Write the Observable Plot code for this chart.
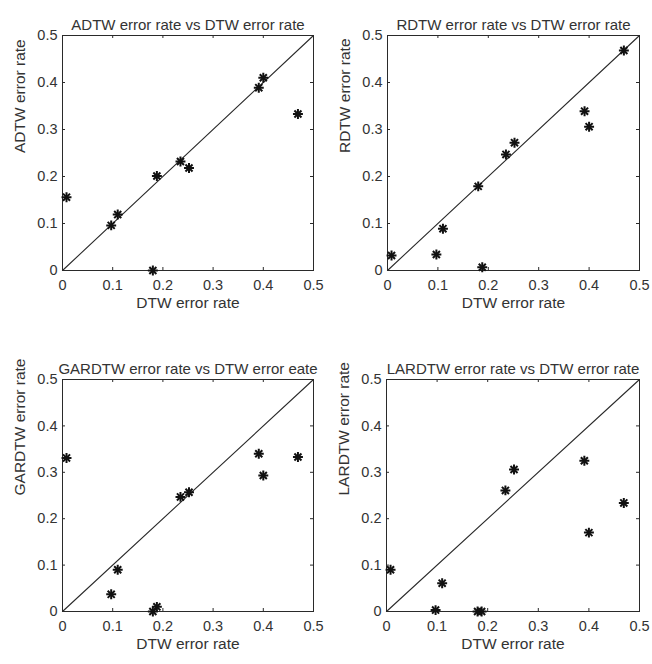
<!DOCTYPE html>
<html><head><meta charset="utf-8">
<script src="https://cdn.jsdelivr.net/npm/d3@7"></script>
<script src="https://cdn.jsdelivr.net/npm/@observablehq/plot@0.6"></script>
<style>
body{margin:0;background:#fff;}
#c{position:relative;width:652px;height:664px;background:#fff;overflow:hidden;}
#c svg{position:absolute;}
</style></head><body><div id="c"></div>
<script>
// DTW error rate (shared x values across all four panels)
const dtw    = [0.008, 0.097, 0.110, 0.180, 0.188, 0.235, 0.252, 0.391, 0.400, 0.469];
const adtw   = [0.156, 0.096, 0.119, 0.000, 0.201, 0.232, 0.218, 0.389, 0.410, 0.333];
const rdtw   = [0.032, 0.034, 0.089, 0.179, 0.007, 0.247, 0.272, 0.339, 0.306, 0.468];
const gardtw = [0.331, 0.037, 0.090, 0.000, 0.010, 0.247, 0.257, 0.340, 0.293, 0.333];
const lardtw = [0.090, 0.003, 0.061, 0.000, 0.000, 0.261, 0.306, 0.325, 0.170, 0.234];

const tickValues = [0, 0.1, 0.2, 0.3, 0.4, 0.5];
const tickLabels = ["0", "0.1", "0.2", "0.3", "0.4", "0.5"];
const axisDomain = [0, 0.5];

const titles = [
  "ADTW error rate vs DTW error rate",
  "RDTW error rate vs DTW error rate",
  "GARDTW error rate vs DTW error eate",
  "LARDTW error rate vs DTW error rate"
];
const yLabels = ["ADTW error rate", "RDTW error rate", "GARDTW error rate", "LARDTW error rate"];
const xLabel = "DTW error rate";
const series = [adtw, rdtw, gardtw, lardtw];

// layout of each panel (pixels)
const layout = [
  {left: 0,   top: 0,   width: 326, height: 320, mL: 62, mR: 13, mT: 35, mB: 50},
  {left: 326, top: 0,   width: 326, height: 320, mL: 61, mR: 13, mT: 35, mB: 50},
  {left: 0,   top: 330, width: 326, height: 334, mL: 62, mR: 13, mT: 49, mB: 53},
  {left: 326, top: 330, width: 326, height: 334, mL: 60, mR: 13, mT: 49, mB: 53}
];

const ink = "#2a2a2a";
const textInk = "#333";
const fmt = d => tickLabels[tickValues.indexOf(d)];
const container = document.getElementById("c");

series.forEach((ys, i) => {
  const L = layout[i];
  const fh = L.height - L.mT - L.mB;
  const fw = L.width - L.mL - L.mR;
  const pts = dtw.map((x, j) => ({x, y: ys[j]}));
  const plot = Plot.plot({
    width: L.width, height: L.height,
    marginLeft: L.mL, marginRight: L.mR, marginTop: L.mT, marginBottom: L.mB,
    x: {domain: axisDomain},
    y: {domain: axisDomain},
    style: {fontFamily: "'Liberation Sans', Arial, sans-serif", fontSize: "14px", color: textInk, background: "white", overflow: "visible"},
    marks: [
      Plot.frame({stroke: ink, strokeWidth: 1}),
      // inner MATLAB-style ticks
      Plot.tickX(tickValues, {x: d => d, insetTop: fh - 3, stroke: ink}),
      Plot.tickX(tickValues, {x: d => d, insetBottom: fh - 3, stroke: ink}),
      Plot.tickY(tickValues, {y: d => d, insetRight: fw - 3, stroke: ink}),
      Plot.tickY(tickValues, {y: d => d, insetLeft: fw - 3, stroke: ink}),
      Plot.axisX(tickValues, {tickSize: 0, tickPadding: 9, tickFormat: fmt, label: null, fontSize: 14.5}),
      Plot.axisY(tickValues, {tickSize: 0, tickPadding: 5, tickFormat: fmt, label: null, fontSize: 14.5}),
      // y = x reference line
      Plot.line(axisDomain, {x: d => d, y: d => d, stroke: ink, strokeWidth: 1.1}),
      // asterisk markers (plus + times overlaid)
      Plot.dot(pts, {x: "x", y: "y", symbol: "plus", r: 3.3, stroke: "#111", strokeWidth: 2}),
      Plot.dot(pts, {x: "x", y: "y", symbol: "times", r: 3.3, stroke: "#111", strokeWidth: 2}),
      // texts
      Plot.text([titles[i]], {text: d => d, frameAnchor: "top", dy: -16, fontSize: 15, fill: textInk}),
      Plot.text([xLabel], {text: d => d, frameAnchor: "bottom", dy: 37, fontSize: 15.5, fill: textInk}),
      Plot.text([yLabels[i]], {text: d => d, frameAnchor: "left", dx: -42, rotate: -90, fontSize: 15.5, fill: textInk})
    ]
  });
  plot.style.left = L.left + "px";
  plot.style.top = L.top + "px";
  container.appendChild(plot);
});
</script>
</body></html>
